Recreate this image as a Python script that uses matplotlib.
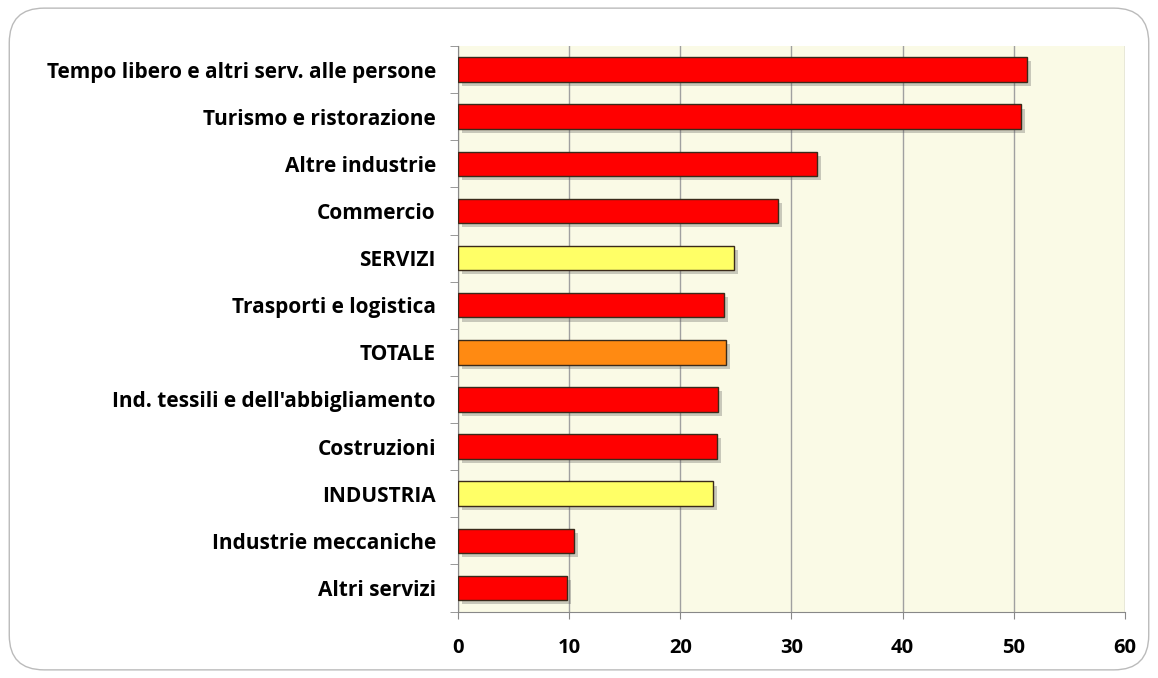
import matplotlib

matplotlib.use("Agg")
import matplotlib.pyplot as plt
import matplotlib.patheffects as pe
from matplotlib.patches import FancyBboxPatch
import numpy as np

# data, top to bottom
categories = [
    "Tempo libero e altri serv. alle persone",
    "Turismo e ristorazione",
    "Altre industrie",
    "Commercio",
    "SERVIZI",
    "Trasporti e logistica",
    "TOTALE",
    "Ind. tessili e dell'abbigliamento",
    "Costruzioni",
    "INDUSTRIA",
    "Industrie meccaniche",
    "Altri servizi",
]
values = [51.2, 50.6, 32.3, 28.8, 24.8, 23.9, 24.1, 23.4, 23.3, 22.9, 10.4, 9.8]
kinds = ["sector", "sector", "sector", "sector", "macro", "sector", "total",
         "sector", "sector", "macro", "sector", "sector"]
x_ticks = [0, 10, 20, 30, 40, 50, 60]

kind_colors = {"sector": "#FF0000", "macro": "#FFFF66", "total": "#FF8A12"}

plt.rcParams["font.family"] = ["Open Sans", "DejaVu Sans"]

fig = plt.figure(figsize=(11.58, 6.78), dpi=100)
frame = FancyBboxPatch((0.008, 0.012), 0.984, 0.976,
                       boxstyle="round,pad=0,rounding_size=0.03",
                       transform=fig.transFigure, facecolor="white",
                       edgecolor="#BBBBBB", linewidth=1.0, mutation_aspect=1.7,
                       zorder=-10)
fig.patches.append(frame)

ax = fig.add_axes([458 / 1158, 1 - 611.5 / 678, (1125 - 458) / 1158, (611.5 - 46) / 678])
ax.set_zorder(5)
ax.set_facecolor("#FAFAE6")

n = len(categories)
y = np.arange(n)[::-1]
colors = [kind_colors[k] for k in kinds]
bars = ax.barh(y, values, height=0.52, color=colors, edgecolor="#3A2A1A",
               linewidth=1.0, zorder=3)
for b in bars:
    b.set_path_effects([pe.SimplePatchShadow(offset=(3, -3), alpha=0.3, shadow_rgbFace="#555555"),
                        pe.Normal()])

ax.set_xlim(0, 60)
ax.set_ylim(-0.5, n - 0.5)
ax.set_xticks(x_ticks)
ax.set_xticklabels([str(t) for t in x_ticks], fontsize=14.5, fontweight="bold")
ax.set_yticks(y)
ax.set_yticklabels(categories, fontsize=15, fontweight="bold")
ax.set_yticks(np.arange(-0.5, n, 1.0), minor=True)
ax.tick_params(axis="y", which="major", length=0, pad=16)
ax.tick_params(axis="y", which="minor", length=6, color="#888888")
ax.tick_params(axis="x", length=5, color="#888888", pad=14)

ax.grid(axis="x", color="#A0A0A0", linewidth=1.0, zorder=0)
ax.set_axisbelow(True)
for side in ["top", "right"]:
    ax.spines[side].set_visible(False)
ax.spines["left"].set_color("#888888")
ax.spines["bottom"].set_color("#888888")

fig.savefig("out.png", dpi=100)
